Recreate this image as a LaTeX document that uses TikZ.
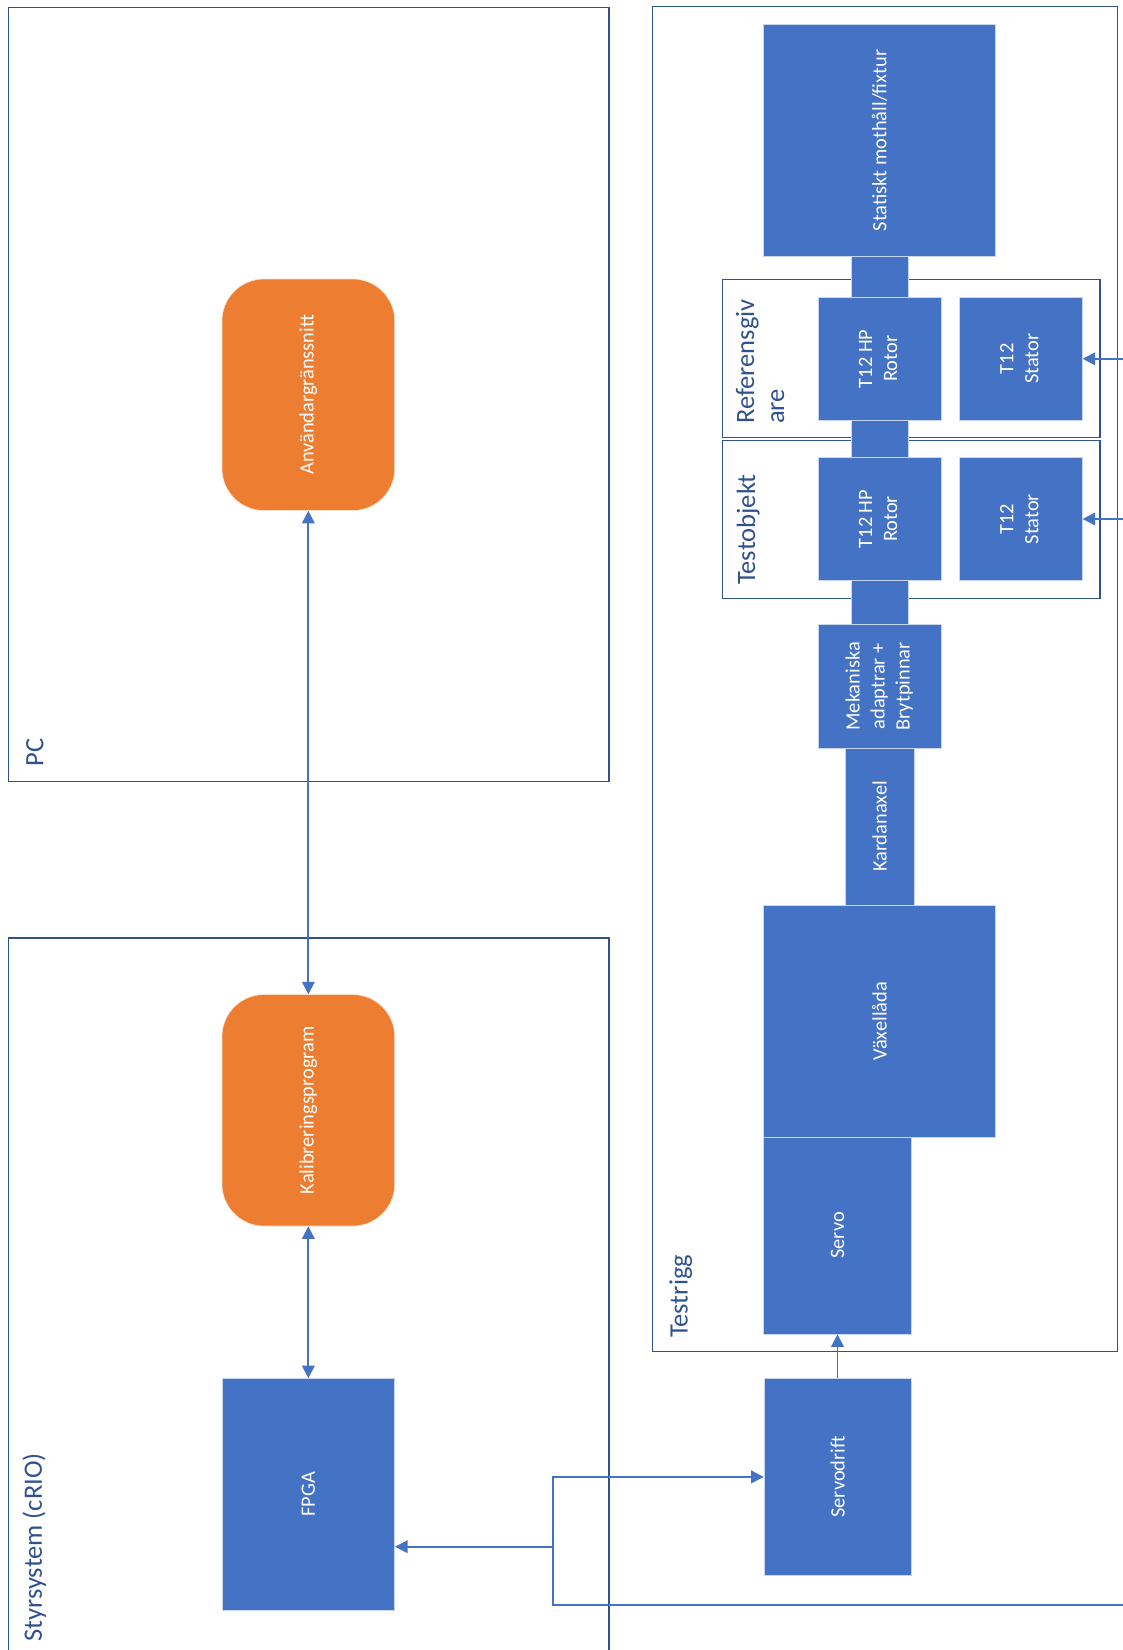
\documentclass[tikz,border=0pt]{standalone}
\usepackage{fontspec}
\setmainfont{Carlito}
\usetikzlibrary{arrows.meta}
\definecolor{boxblue}{HTML}{4472C4}
\definecolor{boxorange}{HTML}{ED7D31}
\definecolor{framecol}{HTML}{2F528F}
\begin{document}
\begin{tikzpicture}[x=1pt,y=-1pt,
  block/.style={rectangle, fill=boxblue, draw=white!70!boxblue, line width=0.6pt,
    inner sep=0pt, text=white, font=\fontsize{20.4}{25}\selectfont},
  rblock/.style={rectangle, rounded corners=42pt, fill=boxorange, draw=white!75!boxorange,
    line width=0.6pt, inner sep=0pt, text=white, font=\fontsize{20.4}{25}\selectfont},
  frame/.style={draw=framecol, line width=1.4pt},
  framelabel/.style={text=framecol, font=\fontsize{26.5}{30}\selectfont, rotate=90,
    anchor=west, inner sep=0pt, align=left},
  link/.style={draw=boxblue, line width=1.9pt},
  >={Triangle[length=12.5pt,width=12.5pt]}]
\useasboundingbox (0,0) rectangle (1123,1650);

% ---------- containers ----------
\draw[frame] (8.4,7.4) rectangle (609,781.7);
\node[framelabel] (pclbl) at (34.8,766.7) {PC};

\draw[frame] (8.4,1650) |- (609,937.8) -- (609,1650);
\node[framelabel] (crlbl) at (34.4,1641.7) {Styrsystem (cRIO)};

\draw[frame] (652.7,6.7) rectangle (1117.3,1351.7);
\node[framelabel] (trlbl) at (680.7,1338) {Testrigg};

\draw[frame] (722.3,279.3) rectangle (1100,437.7);
\node[framelabel] (reflbl) at (760,424) {Referensgiv\\are};

\draw[frame] (722.3,440.7) rectangle (1100,598.3);
\node[framelabel] (tolbl) at (748.3,585) {Testobjekt};

% ---------- mechanical chain ----------
\node[block, minimum width=231.6pt, minimum height=231.3pt] (fix) at (879.5,140.35)
  {\rotatebox{90}{Statiskt mothåll/fixtur}};
\node[block, minimum width=56.7pt, minimum height=368.7pt] (shaft) at (879.65,440.35) {};

\node[block, minimum width=123.3pt, minimum height=123pt] (refrotor) at (879.65,358.8)
  {\rotatebox{90}{\begin{tabular}{@{}c@{}}T12 HP\\Rotor\end{tabular}}};
\node[block, minimum width=123pt, minimum height=123pt] (refstator) at (1020.8,358.8)
  {\rotatebox{90}{\begin{tabular}{@{}c@{}}T12\\Stator\end{tabular}}};
\node[block, minimum width=123.3pt, minimum height=123pt] (torotor) at (879.65,519)
  {\rotatebox{90}{\begin{tabular}{@{}c@{}}T12 HP\\Rotor\end{tabular}}};
\node[block, minimum width=123pt, minimum height=123pt] (tostator) at (1020.8,519)
  {\rotatebox{90}{\begin{tabular}{@{}c@{}}T12\\Stator\end{tabular}}};

\node[block, minimum width=123.3pt, minimum height=123.3pt] (adapt) at (879.65,686.35)
  {\rotatebox{90}{\begin{tabular}{@{}c@{}}Mekaniska\\adaptrar +\\Brytpinnar\end{tabular}}};
\node[block, minimum width=69.3pt, minimum height=157pt] (kardan) at (879.65,826.5)
  {\rotatebox{90}{Kardanaxel}};
\node[block, minimum width=231.6pt, minimum height=232pt] (gear) at (879.5,1021)
  {\rotatebox{90}{Växellåda}};
\node[block, minimum width=147.6pt, minimum height=197pt] (servo) at (837.5,1235.5)
  {\rotatebox{90}{Servo}};

% ---------- control side ----------
\node[block, minimum width=147pt, minimum height=196.8pt] (sdrift) at (837.5,1476.9)
  {\rotatebox{90}{Servodrift}};
\node[rblock, minimum width=172.7pt, minimum height=231.5pt] (anv) at (308.35,394.75)
  {\rotatebox{90}{Användargränssnitt}};
\node[rblock, minimum width=172.7pt, minimum height=231.4pt] (kal) at (308.35,1110.3)
  {\rotatebox{90}{Kalibreringsprogram}};
\node[block, minimum width=172.7pt, minimum height=231.5pt] (fpga) at (308.35,1494.25)
  {\rotatebox{90}{FPGA}};

% ---------- connectors ----------
\draw[link,<->] (anv.south) -- (kal.north);
\draw[link,<->] (kal.south) -- (fpga.north);
\draw[link,->] (sdrift.north) -- (servo.south);

\coordinate (jtop) at (553,1476.9);
\coordinate (jmid) at (553,1546.7);
\coordinate (jbot) at (553,1604.7);
\coordinate (ebot) at (1123,1604.7);
\coordinate (eref) at (1123,358.8);
\coordinate (eto) at (1123,519);

\draw[link,->] (ebot) -- (jbot) -- (jtop) -- (sdrift.west);
\draw[link,->] (jmid) -- (fpga.east |- jmid);
\draw[link,->] (eref) -- (refstator.east);
\draw[link,->] (eto) -- (tostator.east);
\end{tikzpicture}
\end{document}
